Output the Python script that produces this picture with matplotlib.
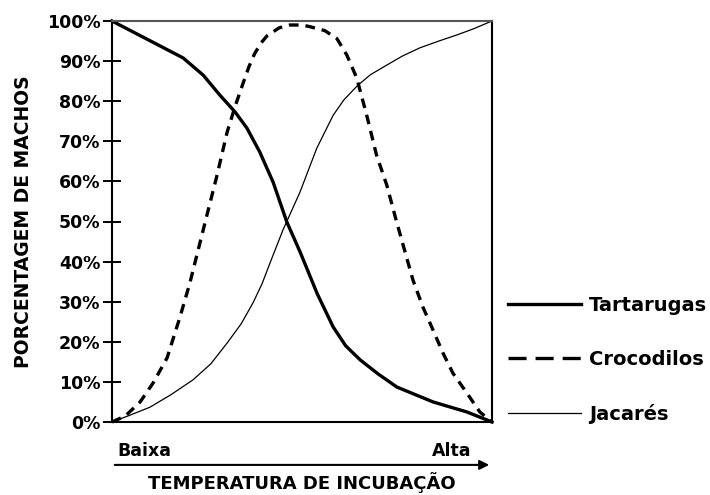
import matplotlib
matplotlib.use('Agg')
import matplotlib.pyplot as plt
from matplotlib.lines import Line2D

plt.rcParams['font.family'] = ['DejaVu Sans']
plt.rcParams['font.weight'] = 'bold'
plt.rcParams['lines.scale_dashes'] = False

# temperatura (0 = baixa, 100 = alta) e % de machos
tart_x = [0, 18.7, 24.0, 28.4, 32.4, 35.5, 38.9, 42.4, 46.0, 49.5, 54.0, 58.2, 61.5, 65.3, 70.0, 75.0, 84.5, 93.4, 100]
tart_y = [100, 90.8, 86.5, 81.5, 77.3, 73.3, 67.3, 59.8, 49.9, 42.4, 32.0, 23.7, 19.0, 15.5, 12.0, 8.7, 5.0, 2.5, 0]

croc_x = [0, 3.5, 7.4, 10.8, 14.5, 17.9, 20.5, 24.0, 27.5, 30.3, 32.5, 34.5, 36.0, 37.5, 39.2, 40.8, 44.0, 46.8,
          50.0, 52.0, 56.0, 59.2, 61.8, 64.4, 67.0, 69.6, 72.3, 74.9, 79.2, 81.8, 84.5, 87.1, 89.7, 93.4, 96.8, 100]
croc_y = [0, 1.5, 5.0, 9.7, 16.0, 26.2, 34.7, 47.9, 61.0, 72.3, 79.0, 84.5, 88.5, 91.8, 94.5, 96.3, 98.3, 99.0,
          99.0, 98.6, 97.6, 95.6, 91.5, 85.8, 76.6, 66.6, 59.1, 49.9, 35.4, 28.7, 22.9, 17.2, 12.2, 7.2, 2.5, 0]

jac_x = [0, 5.0, 10.0, 15.5, 21.3, 26.0, 30.3, 34.0, 37.1, 39.5, 41.6, 45.0, 49.5, 53.9, 58.2, 61.0, 64.5,
         68.0, 72.3, 76.5, 81.0, 86.0, 90.7, 95.0, 100]
jac_y = [0, 1.8, 3.7, 6.8, 10.5, 14.5, 19.7, 24.5, 29.7, 34.5, 39.7, 47.9, 57.4, 68.3, 76.5, 80.3, 83.8,
         86.6, 89.0, 91.3, 93.3, 95.0, 96.5, 98.0, 100]

yticks = list(range(0, 101, 10))
ytick_labels = ['%d%%' % v for v in yticks]

fig = plt.figure(figsize=(7.1, 4.95), dpi=100)
ax = fig.add_axes([112 / 710, 73 / 495, 380 / 710, 401 / 495])

ax.plot(tart_x, tart_y, color='black', linewidth=2.4, solid_joinstyle='round', clip_on=False)
ax.plot(croc_x, croc_y, color='black', linewidth=2.4, dashes=(7, 5), clip_on=False)
ax.plot(jac_x, jac_y, color='black', linewidth=0.9, clip_on=False)

ax.set_xlim(0, 100)
ax.set_ylim(0, 100)
ax.set_yticks(yticks)
ax.set_yticklabels(ytick_labels, fontsize=12.5, fontweight='bold')
ax.set_xticks([])
ax.tick_params(axis='y', direction='inout', length=13, width=1.4, pad=2)
for s in ax.spines.values():
    s.set_linewidth(1.5)
ax.spines['top'].set_color('#555555')

ax.set_ylabel('PORCENTAGEM DE MACHOS', fontsize=13.5, fontweight='bold', labelpad=10)

# eixo da temperatura com seta
ax.annotate('', xy=(1.0, -0.107), xytext=(0.0, -0.107), xycoords='axes fraction',
            arrowprops=dict(arrowstyle='-|>', color='black', lw=1.5, mutation_scale=14))
ax.text(0.015, -0.072, 'Baixa', transform=ax.transAxes, fontsize=12.5, fontweight='bold',
        ha='left', va='center')
ax.text(0.945, -0.072, 'Alta', transform=ax.transAxes, fontsize=12.5, fontweight='bold',
        ha='right', va='center')
ax.text(0.5, -0.152, 'TEMPERATURA DE INCUBAÇÃO', transform=ax.transAxes, fontsize=13,
        fontweight='bold', ha='center', va='center')

handles = [Line2D([], [], color='black', linewidth=2.4),
           Line2D([], [], color='black', linewidth=2.4, dashes=(13, 6.5)),
           Line2D([], [], color='black', linewidth=0.9)]
labels = ['Tartarugas', 'Crocodilos', 'Jacarés']
leg = ax.legend(handles, labels, loc='center left', bbox_to_anchor=(1.042, 0.155), frameon=False,
                fontsize=14, handlelength=3.75, handletextpad=0.4, labelspacing=1.8,
                borderaxespad=0.0, borderpad=0.0)
for t in leg.get_texts():
    t.set_fontweight('bold')

fig.savefig('out.png', dpi=100)
